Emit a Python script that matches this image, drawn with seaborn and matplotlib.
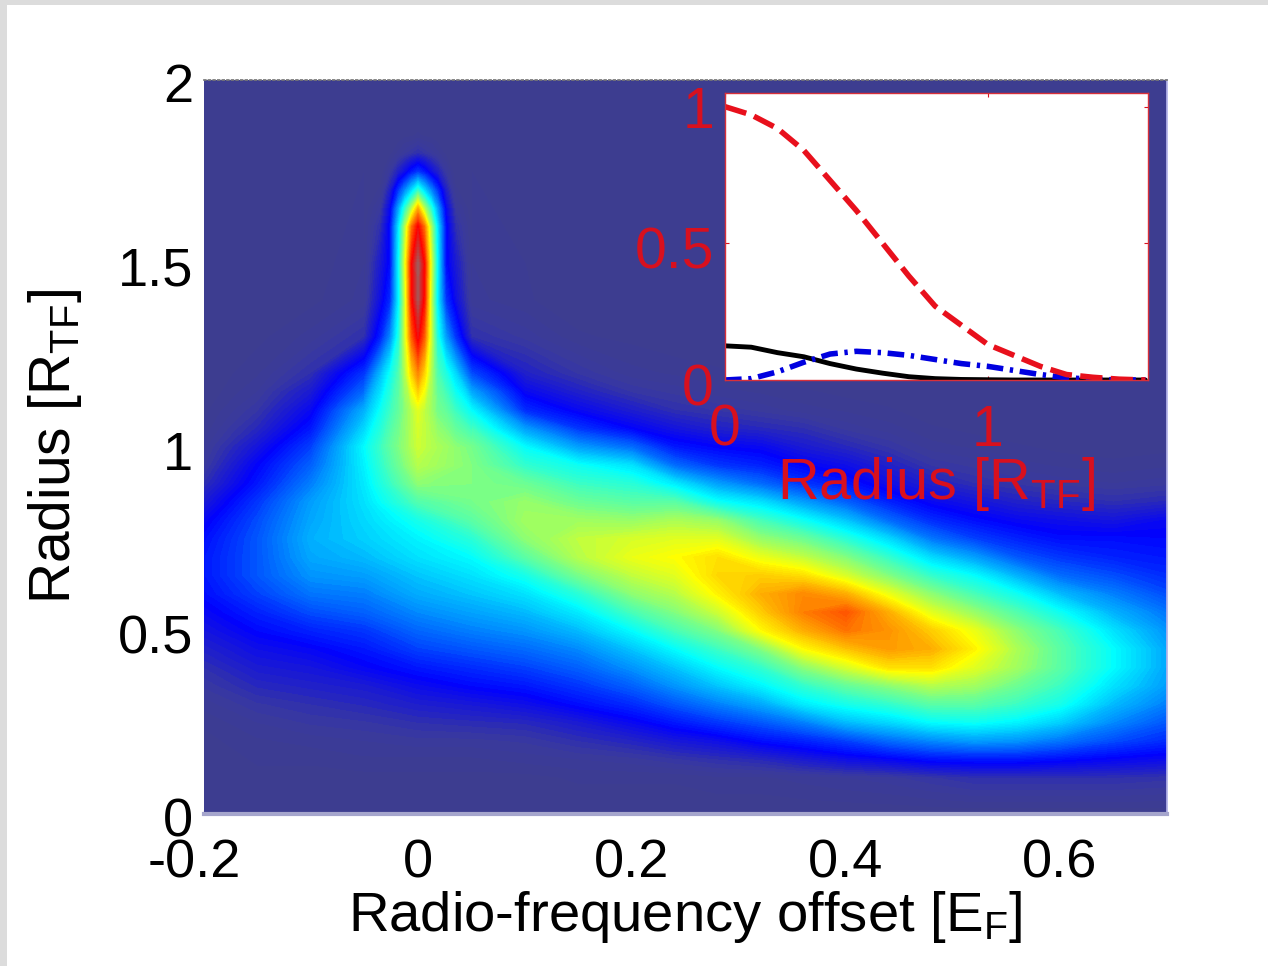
import numpy as np
import pandas as pd
import matplotlib
matplotlib.use("Agg")
import matplotlib.pyplot as plt
from matplotlib.colors import LinearSegmentedColormap
from matplotlib.patches import Rectangle
from matplotlib.transforms import ScaledTranslation
import seaborn as sns

# whole panel, one list per rf offset (bottom to top)
rf_offset = [-0.2, -0.15, -0.1, -0.05, 0, 0.05, 0.1, 0.15, 0.2, 0.24, 0.28,
             0.32, 0.36, 0.4, 0.44, 0.48, 0.52, 0.56, 0.6, 0.65, 0.7]
radius = [0, 0.1, 0.15, 0.2, 0.25, 0.3, 0.35, 0.4, 0.45, 0.5, 0.55, 0.6, 0.65, 0.7,
          0.75, 0.8, 0.85, 0.9, 0.95, 1.0, 1.05, 1.1, 1.15, 1.2, 1.3, 1.4, 2.0]
intensity_columns = [
    [0,0,0,.005,.01, .02,.035,.05,.07,.09, .11,.13,.14,.14,.13, .11,.08,.05,.03,.02, .01,.005,0,0,0, 0,0],
    [0,.005,.01,.015,.025, .04,.06,.08,.1,.125, .15,.18,.2,.2,.2, .19,.17,.14,.12,.09, .06,.04,.025,.015,.005, 0,0],
    [0,.005,.01,.02,.035, .05,.07,.09,.115,.15, .19,.23,.26,.28,.29, .28,.27,.24,.21,.18, .14,.11,.08,.05,.02, .005,0],
    [0,.005,.015,.025,.04, .06,.08,.115,.14,.17, .21,.24,.27,.3,.32, .33,.34,.35,.36,.37, .33,.29,.22,.17,.05, .02,0],
    [0,.005,.015,.03,.05, .075,.105,.14,.18,.215, .25,.285,.31,.34,.36, .39,.45,.51,.55,.57, .58,.59,.6,.3,.02, 0,0],
    [0,.005,.015,.03,.055, .085,.125,.16,.2,.24, .275,.31,.34,.37,.41, .46,.49,.5,.5,.49, .44,.37,.28,.19,.05, .02,0],
    [0,.005,.02,.035,.06, .1,.14,.18,.22,.26, .3,.34,.39,.46,.51, .53,.52,.48,.42,.37, .27,.16,.11,.07,.03, .01,0],
    [0,.01,.025,.05,.08, .13,.17,.21,.25,.3, .35,.41,.49,.55,.56, .53,.48,.43,.38,.27, .17,.11,.07,.04,.01, 0,0],
    [0,.01,.03,.065,.11, .16,.21,.26,.31,.37, .44,.51,.56,.6,.58, .52,.46,.41,.34,.22, .12,.075,.04,.02,.005, 0,0],
    [0,.01,.04,.085,.14, .2,.26,.31,.37,.44, .5,.55,.59,.62,.59, .54,.46,.35,.22,.14, .09,.05,.03,.015,0, 0,0],
    [0,.015,.05,.1,.17, .24,.31,.37,.43,.5, .57,.63,.66,.65,.59, .52,.38,.27,.17,.12, .07,.04,.02,.01,0, 0,0],
    [0,.015,.06,.13,.2, .28,.36,.42,.5,.62, .67,.7,.67,.6,.52, .44,.34,.22,.15,.11, .06,.03,.015,.005,0, 0,0],
    [0,.02,.08,.15,.24, .35,.42,.51,.62,.7, .75,.74,.65,.56,.48, .38,.27,.17,.12,.08, .05,.02,.01,0,0, 0,0],
    [0,.025,.1,.18,.3, .39,.47,.58,.68,.76, .79,.7,.58,.5,.41, .31,.21,.14,.1,.06, .03,.015,.005,0,0, 0,0],
    [0,.03,.115,.22,.33, .42,.51,.65,.72,.73, .7,.6,.5,.42,.33, .22,.15,.1,.07,.04, .02,.01,0,0,0, 0,0],
    [0,.04,.135,.25,.37, .46,.55,.65,.7,.67, .59,.51,.42,.33,.23, .16,.11,.07,.04,.02, .01,0,0,0,0, 0,0],
    [0,.05,.14,.27,.38, .46,.53,.59,.63,.6, .52,.44,.37,.27,.18, .13,.09,.05,.03,.015, .005,0,0,0,0, 0,0],
    [0,.05,.14,.26,.36, .43,.48,.53,.54,.51, .45,.38,.29,.2,.15, .11,.07,.04,.02,.01, 0,0,0,0,0, 0,0],
    [0,.05,.13,.23,.32, .39,.43,.46,.46,.44, .38,.3,.22,.17,.13, .1,.06,.03,.015,.005, 0,0,0,0,0, 0,0],
    [0,.05,.115,.19,.25, .3,.34,.37,.37,.34, .29,.24,.19,.15,.13, .09,.05,.025,.01,.005, 0,0,0,0,0, 0,0],
    [0,.045,.105,.16,.2, .24,.27,.28,.28,.26, .23,.19,.16,.14,.125, .11,.06,.03,.015,.005, 0,0,0,0,0, 0,0],
]

# the narrow peak at zero offset, finer grid drawn on top
peak_offset = [-0.05, -0.035, -0.026, -0.018, -0.012, -0.006, 0, 0.006, 0.012, 0.018, 0.026, 0.035, 0.05]
peak_radius = [1.0, 1.1, 1.2, 1.3, 1.4, 1.5, 1.6, 1.65, 1.7, 1.75, 1.8, 1.85, 1.9]
peak_columns = [
    [.37,.29,.17,.05,.02,.01,.005,0,0,0,0,0,0],
    [.43,.38,.3,.15,.1,.08,.05,.03,.01,0,0,0,0],
    [.47,.43,.38,.25,.16,.13,.13,.11,.07,.03,.005,0,0],
    [.5,.47,.45,.4,.36,.37,.35,.28,.17,.07,.02,0,0],
    [.52,.51,.55,.58,.58,.6,.55,.42,.25,.1,.03,.005,0],
    [.55,.55,.66,.78,.85,.86,.76,.55,.33,.14,.04,.005,0],
    [.57,.59,.74,.88,.96,.97,.87,.7,.42,.17,.05,.01,0],
    [.56,.56,.66,.78,.85,.86,.76,.55,.33,.14,.04,.005,0],
    [.55,.53,.55,.58,.58,.6,.55,.42,.25,.1,.03,.005,0],
    [.54,.49,.45,.4,.36,.37,.35,.28,.17,.07,.02,0,0],
    [.53,.47,.4,.27,.17,.13,.13,.11,.07,.03,.005,0,0],
    [.51,.43,.33,.17,.1,.08,.05,.03,.01,0,0,0,0],
    [.49,.37,.19,.05,.02,.01,.005,0,0,0,0,0,0],
]
x_ticks = [-0.2, 0, 0.2, 0.4, 0.6]
x_tick_labels = ["-0.2", "0", "0.2", "0.4", "0.6"]
y_ticks = [0, 0.5, 1, 1.5, 2]
y_tick_labels = ["0", "0.5", "1", "1.5", "2"]

# inset curves
inset_radius = [0, 0.1, 0.2, 0.3, 0.4, 0.5, 0.6, 0.7, 0.8, 0.9, 1.0, 1.1, 1.2, 1.3, 1.4, 1.5, 1.6]
red_curve = [1.0, 0.97, 0.92, 0.84, 0.73, 0.62, 0.50, 0.38, 0.27, 0.20, 0.13, 0.09, 0.05, 0.02, 0.01, 0.003, 0]
black_curve = [0.125, 0.12, 0.10, 0.085, 0.06, 0.04, 0.025, 0.012, 0.005, 0.002, 0.001, 0, 0, 0, 0, 0, 0]
blue_curve = [0, 0.005, 0.03, 0.065, 0.095, 0.105, 0.10, 0.09, 0.075, 0.06, 0.05, 0.035, 0.02, 0.008, 0.003, 0, 0]

sns.set_theme(style="ticks")
plt.rcParams["font.family"] = ["Liberation Sans", "DejaVu Sans"]
plt.rcParams["mathtext.default"] = "regular"
plt.rcParams["axes.unicode_minus"] = False

W, H = 1268, 966
fig = plt.figure(figsize=(W / 100, H / 100), dpi=100, facecolor="#dcdcdc")
fig.add_artist(Rectangle((7 / W, 0), 1, 1 - 5 / H, transform=fig.transFigure, fc="white", ec="none", zorder=-1))

# jet with the washed out dark blue of the original
cmap = LinearSegmentedColormap.from_list("washed_jet", [
    (0, "#3e3d8e"), (0.03, "#3a3a9c"), (0.12, "#0000ff"), (0.24, "#0080ff"),
    (0.37, "#00ffff"), (0.5, "#80ff80"), (0.62, "#ffff00"), (0.75, "#ff8000"),
    (0.87, "#ff0000"), (1, "#8a7070"),
])
levels = np.linspace(0, 1, 121)


def shift_labels(labels, dx, dy):
    # pixels, the original has its tick text a little off the ticks
    for lab in labels:
        lab.set_transform(lab.get_transform() + ScaledTranslation(dx / 100, dy / 100, fig.dpi_scale_trans))


ax = fig.add_axes([204 / W, 1 - 814 / H, 963 / W, 734 / H])
ax.contourf(rf_offset, radius, np.array(intensity_columns).T, levels=levels, cmap=cmap)
ax.contourf(peak_offset, peak_radius, np.array(peak_columns).T, levels=levels, cmap=cmap)
ax.set_xlim(-0.2, 0.7)
ax.set_ylim(0, 2)
ax.set_xticks(x_ticks, x_tick_labels)
ax.set_yticks(y_ticks, y_tick_labels)
ax.tick_params(direction="in", length=3, width=0.8, labelsize=39, colors="black")
ax.tick_params(axis="x", pad=18)
ax.tick_params(axis="y", pad=8)
shift_labels(ax.get_xticklabels()[:1], -10, 0)
shift_labels(ax.get_yticklabels(), 0, -3)
ax.set_xlabel("Radio-frequency offset [E$_{F}$]", fontsize=40.5, labelpad=0, color="black")
ax.set_ylabel("Radius [R$_{TF}$]", fontsize=41, labelpad=24, color="black")
ax.spines["left"].set_visible(False)
ax.spines["right"].set_color("#b4b4e8")
ax.spines["top"].set_linestyle(":")
ax.spines["top"].set_color("#777777")
ax.spines["bottom"].set_color("#a5a5cc")
ax.spines["bottom"].set_linewidth(3)

inset = fig.add_axes([725 / W, 1 - 380 / H, 423 / W, 287 / H], facecolor="white")
inset_df = pd.DataFrame({"r": inset_radius, "red": red_curve, "black": black_curve, "blue": blue_curve})
sns.lineplot(data=inset_df, x="r", y="black", color="black", lw=3.5, ax=inset)
sns.lineplot(data=inset_df, x="r", y="blue", color="#0000e0", lw=4, ls=(0, (3, 1.2, 0.6, 1.2)), ax=inset)
sns.lineplot(data=inset_df, x="r", y="red", color="#e8101c", lw=4, ls=(0, (4, 1.5)), ax=inset)
inset.set_xlim(0, 1.61)
inset.set_ylim(0, 1.05)
inset.set_xticks([0, 1], ["0", "1"])
inset.set_yticks([0, 0.5, 1], ["0", "0.5", "1"])
inset.tick_params(direction="in", length=3, width=0.8, labelsize=41, colors="#d8101e",
                  top=True, right=True)
inset.tick_params(axis="x", pad=17)
inset.tick_params(axis="y", pad=8)
shift_labels(inset.get_yticklabels()[:2], 0, -4)
inset.set_xlabel("Radius [R$_{TF}$]", fontsize=41.5, labelpad=-2, color="#d8101e")
inset.set_ylabel("")
for spine in inset.spines.values():
    spine.set_color("#d8303a")
    spine.set_linewidth(1)

fig.savefig("out.png", dpi=100, facecolor=fig.get_facecolor())
